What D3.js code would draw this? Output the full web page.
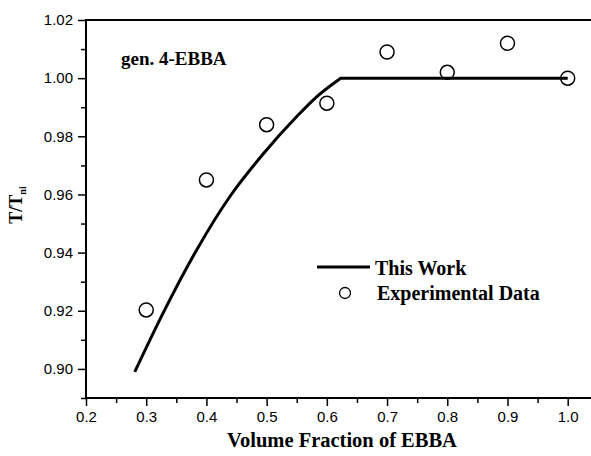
<!DOCTYPE html>
<html>
<head>
<meta charset="utf-8">
<script src="https://cdn.jsdelivr.net/npm/d3@7"></script>
<style>
body { margin: 0; background: #fff; }
.ttl { font-family: "Liberation Serif", "Times New Roman", serif; font-weight: bold; fill: #000; }
</style>
</head>
<body>
<script>
var width = 591;
var height = 456;

// experimental points
var expX = [0.3, 0.4, 0.5, 0.6, 0.7, 0.8, 0.9, 1.0];
var expY = [0.9203, 0.965, 0.984, 0.9914, 1.009, 1.002, 1.012, 1.000];

// model curve (this work): rising part, then flat from the break point
var fitX = [0.281, 0.328, 0.384, 0.439, 0.4945, 0.550, 0.583, 0.623, 1.0];
var fitY = [0.899, 0.9192, 0.941, 0.9593, 0.974, 0.9868, 0.9936, 1.000, 1.000];
var breakIdx = 7;

var xTicks = [0.2, 0.3, 0.4, 0.5, 0.6, 0.7, 0.8, 0.9, 1.0];
var yTicks = [0.90, 0.92, 0.94, 0.96, 0.98, 1.00, 1.02];

var mLeft = 86, mRight = 591, mTop = 20, mBottom = 398;

var svg = d3.select("body")
    .append("svg")
    .attr("width", width)
    .attr("height", height);

var x = d3.scaleLinear().domain([0.2, 1.0 + (mRight - 567.7) / 602]).range([mLeft, mRight]);
var y = d3.scaleLinear().domain([0.89, 1.02]).range([mBottom, mTop]);

// minor ticks first
var xMinor = d3.range(0.25, 1.04, 0.1);
var yMinor = d3.range(0.89, 1.02, 0.02);

svg.append("g")
    .attr("transform", "translate(0," + mBottom + ")")
    .call(d3.axisBottom(x).tickValues(xMinor).tickSize(5).tickFormat(""))
    .call(function(g) { g.select(".domain").remove(); })
    .selectAll("line").attr("stroke-width", 1.5);

svg.append("g")
    .attr("transform", "translate(" + mLeft + ",0)")
    .call(d3.axisLeft(y).tickValues(yMinor).tickSize(5).tickFormat(""))
    .call(function(g) { g.select(".domain").remove(); })
    .selectAll("line").attr("stroke-width", 1.5);

var xAxis = svg.append("g")
    .attr("transform", "translate(0," + mBottom + ")")
    .call(d3.axisBottom(x).tickValues(xTicks).tickSize(8).tickPadding(5).tickFormat(d3.format(".1f")));
xAxis.select(".domain").remove();
xAxis.selectAll("line").attr("stroke-width", 1.5);

var yAxis = svg.append("g")
    .attr("transform", "translate(" + mLeft + ",0)")
    .call(d3.axisLeft(y).tickValues(yTicks).tickSize(8).tickPadding(5).tickFormat(d3.format(".2f")));
yAxis.select(".domain").remove();
yAxis.selectAll("line").attr("stroke-width", 1.5);

[xAxis, yAxis].forEach(function(a) {
    a.attr("font-family", "'Liberation Sans', Arial, sans-serif").attr("font-size", 15);
    a.selectAll("text").attr("fill", "#000");
});

// frame: left, top, bottom
svg.append("path")
    .attr("d", "M" + mRight + "," + mTop + "H" + mLeft + "V" + mBottom + "H" + mRight)
    .attr("fill", "none")
    .attr("stroke", "#000")
    .attr("stroke-width", 2);

// curve
var pts = d3.zip(fitX, fitY);
var smooth = d3.line()
    .x(function(d) { return x(d[0]); })
    .y(function(d) { return y(d[1]); })
    .curve(d3.curveMonotoneX);
var straight = d3.line()
    .x(function(d) { return x(d[0]); })
    .y(function(d) { return y(d[1]); });

svg.append("path")
    .attr("d", smooth(pts.slice(0, breakIdx + 1)) + straight(pts.slice(breakIdx)).replace(/^M/, "L"))
    .attr("fill", "none")
    .attr("stroke", "#000")
    .attr("stroke-width", 3)
    .attr("stroke-linejoin", "miter");

svg.append("g").selectAll("circle")
    .data(d3.zip(expX, expY))
    .enter().append("circle")
    .attr("cx", function(d) { return x(d[0]); })
    .attr("cy", function(d) { return y(d[1]); })
    .attr("r", 7)
    .attr("fill", "none")
    .attr("stroke", "#000")
    .attr("stroke-width", 1.5);

// legend
svg.append("line")
    .attr("x1", 317).attr("x2", 370)
    .attr("y1", 267).attr("y2", 267)
    .attr("stroke", "#000").attr("stroke-width", 3);
svg.append("text").attr("class", "ttl")
    .attr("x", 375).attr("y", 275)
    .style("font-size", "20px")
    .text("This Work");
svg.append("circle")
    .attr("cx", 345).attr("cy", 293).attr("r", 5.5)
    .attr("fill", "none").attr("stroke", "#000").attr("stroke-width", 1.3);
svg.append("text").attr("class", "ttl")
    .attr("x", 377).attr("y", 300)
    .style("font-size", "20px")
    .text("Experimental Data");

svg.append("text").attr("class", "ttl")
    .attr("x", 121).attr("y", 65)
    .style("font-size", "19px")
    .text("gen. 4-EBBA");

// axis titles
svg.append("text").attr("class", "ttl")
    .attr("x", 342).attr("y", 447)
    .attr("text-anchor", "middle")
    .style("font-size", "20.5px")
    .text("Volume Fraction of EBBA");

var yl = svg.append("text").attr("class", "ttl")
    .attr("transform", "translate(22,205) rotate(-90)")
    .attr("text-anchor", "middle")
    .style("font-size", "18px");
yl.append("tspan").text("T/T");
yl.append("tspan").attr("dy", 4).style("font-size", "10px").text("ni");
</script>
</body>
</html>
